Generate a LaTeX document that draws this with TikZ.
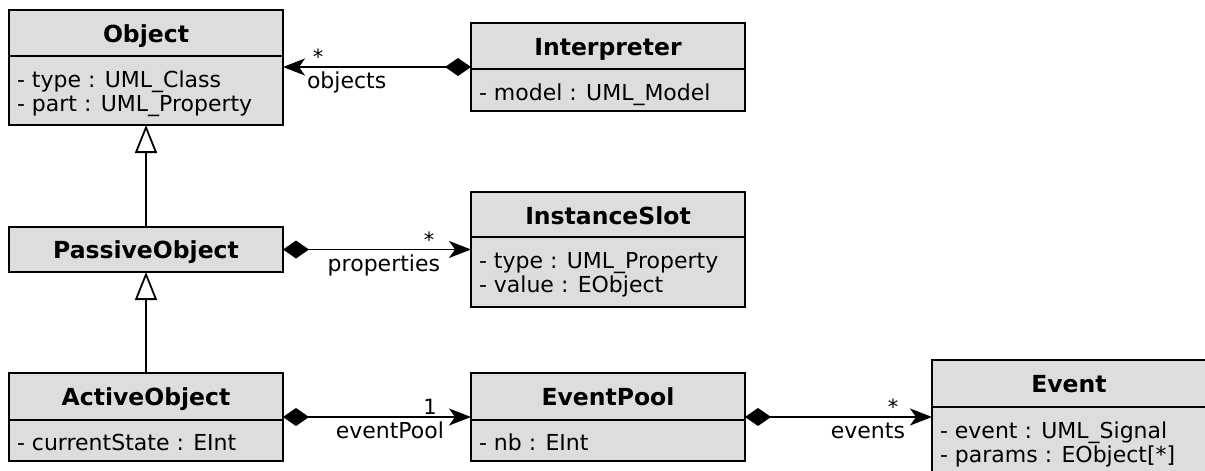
\documentclass[tikz,border=0pt]{standalone}
\usepackage{fontspec}
\setmainfont{DejaVu Sans}
\usetikzlibrary{arrows.meta,calc}
\definecolor{clsfill}{RGB}{221,221,221}
\begin{document}
\begin{tikzpicture}[x=1pt,y=-1pt,
  every node/.style={font=\fontsize{22}{24}\selectfont, inner sep=0pt, outer sep=0pt},
  clsbox/.style={draw, fill=clsfill, line width=1.8pt, minimum width=274pt, anchor=north west},
  divider/.style={line width=1.8pt},
  clstitle/.style={font=\fontsize{23.5}{26}\selectfont\bfseries, anchor=base},
  attr/.style={anchor=base west},
  link/.style={line width=1.8pt},
  comp/.style={link, {Diamond[length=26pt,width=18pt]}-{Stealth[length=22pt,width=17pt,inset=6pt]}},
  gen/.style={link, -{Triangle[open,length=28pt,width=22pt,fill=white]}},
  mult/.style={font=\fontsize{21}{24}\selectfont, anchor=north},
  role/.style={anchor=base}
]
\useasboundingbox (0,0) rectangle (1205,471);
\clip (0,0) rectangle (1205,471);

% Object
\node[clsbox, minimum height=115pt] (obj) at (9,10) {};
\draw[divider] ($(obj.north west)+(0,46)$) -- ($(obj.north east)+(0,46)$);
\node[clstitle] (objT) at ($(obj.north)+(0,32)$) {Object};
\node[attr] (objA1) at ($(obj.north west)+(8,77)$) {- type : UML\_Class};
\node[attr] (objA2) at ($(obj.north west)+(8,101)$) {- part : UML\_Property};

% Interpreter
\node[clsbox, minimum height=88pt] (interp) at (471,23) {};
\draw[divider] ($(interp.north west)+(0,46)$) -- ($(interp.north east)+(0,46)$);
\node[clstitle] (interpT) at ($(interp.north)+(0,32)$) {Interpreter};
\node[attr] (interpA1) at ($(interp.north west)+(8,77)$) {- model : UML\_Model};

% PassiveObject
\node[clsbox, minimum height=45pt] (pas) at (9,227) {};
\node[clstitle] (pasT) at ($(pas.north)+(0,31)$) {PassiveObject};

% InstanceSlot
\node[clsbox, minimum height=115pt] (slot) at (471,192) {};
\draw[divider] ($(slot.north west)+(0,45)$) -- ($(slot.north east)+(0,45)$);
\node[clstitle] (slotT) at ($(slot.north)+(0,32)$) {InstanceSlot};
\node[attr] (slotA1) at ($(slot.north west)+(8,76)$) {- type : UML\_Property};
\node[attr] (slotA2) at ($(slot.north west)+(8,100)$) {- value : EObject};

% ActiveObject
\node[clsbox, minimum height=88pt] (act) at (9,373) {};
\draw[divider] ($(act.north west)+(0,47)$) -- ($(act.north east)+(0,47)$);
\node[clstitle] (actT) at ($(act.north)+(0,32)$) {ActiveObject};
\node[attr] (actA1) at ($(act.north west)+(8,77)$) {- currentState : EInt};

% EventPool
\node[clsbox, minimum height=88pt] (pool) at (471,373) {};
\draw[divider] ($(pool.north west)+(0,47)$) -- ($(pool.north east)+(0,47)$);
\node[clstitle] (poolT) at ($(pool.north)+(0,32)$) {EventPool};
\node[attr] (poolA1) at ($(pool.north west)+(8,77)$) {- nb : EInt};

% Event (runs past the right and bottom edges)
\node[clsbox, minimum height=115pt, minimum width=278pt] (event) at (932,360) {};
\draw[divider] ($(event.north west)+(0,47)$) -- ($(event.north east)+(0,47)$);
\node[clstitle] (eventT) at ($(event.north west)+(137,32)$) {Event};
\node[attr] (eventA1) at ($(event.north west)+(8,78)$) {- event : UML\_Signal};
\node[attr] (eventA2) at ($(event.north west)+(8,102)$) {- params : EObject[*]};

% generalisations
\draw[gen] (pas.north) -- (obj.south);
\draw[gen] (act.north) -- (pas.south);

% compositions
\coordinate (c1) at (interp.west -| obj.east);
\draw[comp] (interp.west) -- (c1);
\node[mult] (m1) at ($(c1)+(35,-18)$) {*};
\node[role, anchor=base west] (r1) at ($(c1)+(24,21)$) {objects};

\coordinate (c2) at (pas.east -| slot.west);
\draw[comp] (pas.east) -- (c2);
\node[mult] (m2) at ($(c2)+(-42,-18)$) {*};
\node[role, anchor=base east] (r2) at ($(c2)+(-31,21.5)$) {properties};

\coordinate (c3) at (act.east -| pool.west);
\draw[comp] (act.east) -- (c3);
\node[mult] (m3) at ($(c3)+(-41,-18)$) {1};
\node[role, anchor=base east] (r3) at ($(c3)+(-27,21.5)$) {eventPool};

\coordinate (c4) at (pool.east -| event.west);
\draw[comp] (pool.east) -- (c4);
\node[mult] (m4) at ($(c4)+(-39,-18)$) {*};
\node[role, anchor=base east] (r4) at ($(c4)+(-27,21.5)$) {events};
\end{tikzpicture}
\end{document}
